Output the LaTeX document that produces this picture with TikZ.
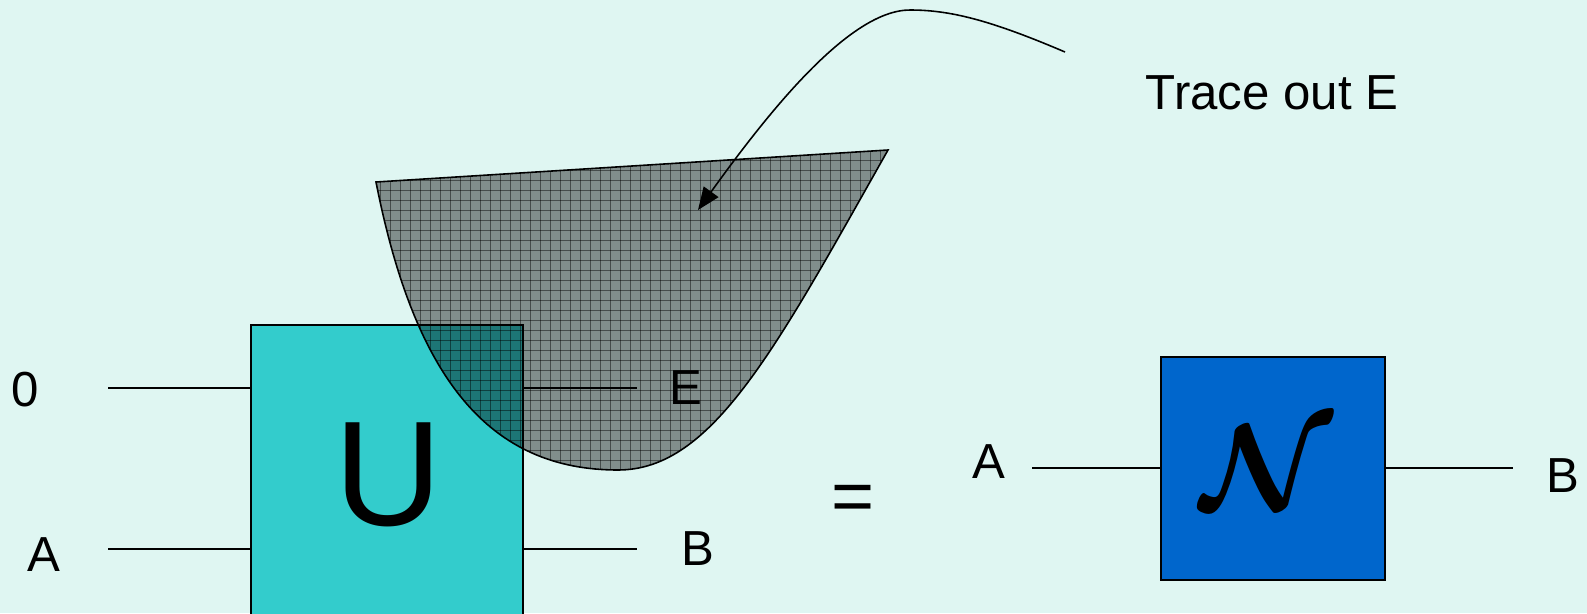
\documentclass[tikz,border=0pt]{standalone}
\usepackage{fontspec}
\usepackage{bm}
\setmainfont{Liberation Sans}
\usetikzlibrary{arrows.meta}
\definecolor{bg}{HTML}{DFF6F2}
\definecolor{ubox}{HTML}{33CCCC}
\definecolor{nbox}{HTML}{0066CC}
\tikzset{
  wire/.style={line width=0.9pt, black},
  gate/.style={draw=black, line width=1.3pt, rectangle, inner sep=0pt},
  lbl/.style={font=\fontsize{28}{30}\selectfont, inner sep=0pt},
  gridline/.style={black, opacity=0.45, line width=0.35pt},
}
\begin{document}
\begin{tikzpicture}[x=0.02cm, y=-0.02cm]
\useasboundingbox (0,0) rectangle (1587,613);
\fill[bg] (0,0) rectangle (1587,613);
% U gate
\node[gate, fill=ubox, minimum width=5.44cm, minimum height=5.8cm] (U) at (387,470) {};
\node[font=\fontsize{85}{85}\selectfont, inner sep=0pt] (Ulbl) at (388,475) {U};
% wires U
\coordinate (in0) at (108,388);
\coordinate (inA) at (108,549);
\coordinate (outE) at (637,388);
\coordinate (outB) at (637,549);
\draw[wire] (in0) -- (U.west |- in0);
\draw[wire] (inA) -- (U.west |- inA);
\draw[wire] (U.east |- outE) -- (outE);
\draw[wire] (U.east |- outB) -- (outB);
\node[lbl] (l0) at (25,390) {0};
\node[lbl] (lA) at (44,555) {A};
\node[lbl] (lE) at (686,388) {E};
\node[lbl] (lB) at (698,549) {B};
% blob
\begin{scope}
\clip (376,182) -- (888,150) .. controls (775,350) and (712,470) .. (618,470)
   .. controls (490,470) and (415,380) .. cycle;
\fill[black, opacity=0.42] (350,140) rectangle (900,480);
\foreach \gx in {350,360,...,900} \draw[gridline] (\gx,140) -- (\gx,480);
\foreach \gy in {140,150,...,480} \draw[gridline] (350,\gy) -- (900,\gy);
\end{scope}
\draw[line width=0.9pt] (376,182) -- (888,150) .. controls (775,350) and (712,470) .. (618,470)
   .. controls (490,470) and (415,380) .. cycle;
% arrow and label
\node[font=\fontsize{28}{30}\selectfont, inner sep=0pt] (trace) at (1272,93) {Trace out E};
\coordinate (astart) at (1065,52);
\coordinate (atip) at (698,210);
\draw[line width=0.9pt, -{Triangle[length=0.45cm, width=0.36cm]}] (astart) .. controls (990,20) and (950,10) .. (910,10)
   .. controls (850,10) and (770,110) .. (atip);
% equals
\node[font=\fontsize{42}{42}\selectfont, inner sep=0pt] (eq) at (853,503) {=};
% N gate
\node[gate, fill=nbox, minimum width=4.48cm, minimum height=4.46cm] (N) at (1273,468.5) {};
\node[inner sep=0pt] (Nlbl) at (1267,467) {\scalebox{6.9}{$\bm{\mathcal{N}}$}};
\coordinate (nA) at (1032,468);
\coordinate (nB) at (1513,468);
\draw[wire] (nA) -- (N.west |- nA);
\draw[wire] (N.east |- nB) -- (nB);
\node[lbl] (nlA) at (989,462) {A};
\node[lbl] (nlB) at (1563,476) {B};
\end{tikzpicture}
\end{document}
